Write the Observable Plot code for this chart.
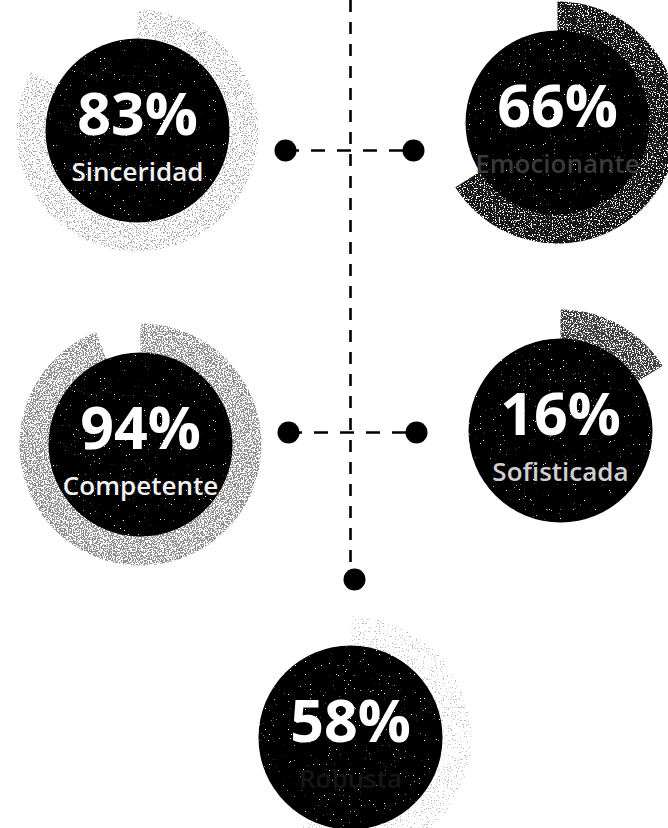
<!DOCTYPE html>
<html>
<head>
<meta charset="utf-8">
<script src="https://cdn.jsdelivr.net/npm/d3@7"></script>
<script src="https://cdn.jsdelivr.net/npm/@observablehq/plot@0.6"></script>
<style>
  html, body { margin: 0; padding: 0; background: #fff; }
  #chart svg { display: block; }
</style>
</head>
<body>
<div id="chart"></div>
<script>
// ---- data ----
const labels = ["Sinceridad", "Emocionante", "Competente", "Sofisticada", "Robusta"];
const values = [83, 66, 94, 16, 58];            // percent
const valueLabels = ["83%", "66%", "94%", "16%", "58%"];

// ---- layout (pixel space) ----
const centersX = [137, 557, 140, 560, 350];
const centersY = [130, 122, 444, 430, 737];
const discR = 92;
const ringR = 121;
const ringColors = ["#a8a8a8", "#141414", "#8c8c8c", "#3c3c3c", "#bdbdbd"];
const ringDensity = [0.57, 0.36, 0.47, 0.41, 0.64];   // grain threshold (higher = sparser)
const labelColors = ["#f2f2f2", "#3a3a3a", "#f2f2f2", "#cfcfcf", "#161616"];

const badges = labels.map((label, i) => ({
  label, value: values[i], text: valueLabels[i],
  cx: centersX[i], cy: centersY[i],
  ring: ringColors[i], labelColor: labelColors[i]
}));

// ring polygon (outer arc clockwise from 12 o'clock, back along inner arc)
function ringPoints(b) {
  const sweep = b.value / 100 * 2 * Math.PI;
  const n = Math.max(8, Math.round(b.value * 3.6));
  const pts = [];
  for (let k = 0; k <= n; k++) {
    const a = sweep * k / n;
    pts.push({x: b.cx + ringR * Math.sin(a), y: b.cy - ringR * Math.cos(a)});
  }
  for (let k = n; k >= 0; k--) {
    const a = sweep * k / n;
    pts.push({x: b.cx + (discR - 1) * Math.sin(a), y: b.cy - (discR - 1) * Math.cos(a)});
  }
  return pts;
}

// connectors
const rowY = [150, 432];
const leftDotX = [285, 288];
const rightDotX = [413, 416];
const spineX = 350;
const bottomDot = {x: 354, y: 579};
const dotsData = [
  {x: leftDotX[0], y: rowY[0]}, {x: rightDotX[0], y: rowY[0]},
  {x: leftDotX[1], y: rowY[1]}, {x: rightDotX[1], y: rowY[1]},
  bottomDot
];
const hLines = rowY.map((y, i) => ({y, x1: leftDotX[i], x2: rightDotX[i]}));

const chart = Plot.plot({
  width: 668,
  height: 828,
  margin: 0,
  x: {domain: [0, 668], range: [0, 668], axis: null},
  y: {domain: [0, 828], range: [0, 828], axis: null},
  style: {background: "#fff"},
  marks: [
    ...badges.map(b => Plot.line(ringPoints(b), {x: "x", y: "y", fill: b.ring, stroke: "none"})),
    Plot.dot(badges, {x: "cx", y: "cy", r: discR, fill: "#050505", stroke: "none"}),
    Plot.text(badges, {x: "cx", y: d => d.cy + 4, text: "text", lineAnchor: "bottom",
      fontSize: 59, fontWeight: 700, fill: "#fff", fontFamily: "Open Sans"}),
    Plot.text(badges, {x: "cx", y: d => d.cy + 50, text: "label", lineAnchor: "bottom",
      fontSize: 26, fontWeight: 600, fill: d => d.labelColor, fontFamily: "Open Sans"}),
    Plot.ruleX([spineX], {y1: 0, y2: 566, stroke: "#000", strokeWidth: 2.6, strokeDasharray: "12,10"}),
    Plot.ruleY(hLines, {y: "y", x1: "x1", x2: "x2", stroke: "#000", strokeWidth: 2.6, strokeDasharray: "14,12"}),
    Plot.dot(dotsData, {x: "x", y: "y", r: 11, fill: "#000", stroke: "none"})
  ]
});

// scanned-print grain: SVG filters applied to the rendered marks
const svg = d3.select(chart);
const defs = svg.insert("defs", ":first-child");
function grain(id, threshold, seed, freq) {
  const f = defs.append("filter").attr("id", id)
    .attr("x", "-5%").attr("y", "-5%").attr("width", "110%").attr("height", "110%");
  f.append("feTurbulence").attr("type", "fractalNoise").attr("baseFrequency", freq)
    .attr("numOctaves", 2).attr("seed", seed).attr("result", "n");
  f.append("feColorMatrix").attr("in", "n").attr("type", "matrix")
    .attr("values", "0 0 0 0 0  0 0 0 0 0  0 0 0 0 0  1 0 0 0 0").attr("result", "a");
  const ct = f.append("feComponentTransfer").attr("in", "a").attr("result", "m");
  ct.append("feFuncA").attr("type", "linear").attr("slope", 18).attr("intercept", -18 * threshold);
  f.append("feComposite").attr("in", "SourceGraphic").attr("in2", "m").attr("operator", "in");
}
ringDensity.forEach((t, i) => grain("g" + i, t, 7 + i, 0.75));
grain("gdisc", 0.2, 21, 0.8);
const lineGroups = svg.selectAll('g[aria-label="line"]').nodes();
lineGroups.forEach((g, i) => g.setAttribute("filter", `url(#g${i})`));
const dotGroups = svg.selectAll('g[aria-label="dot"]').nodes();
if (dotGroups[0]) dotGroups[0].setAttribute("filter", "url(#gdisc)");

document.getElementById("chart").appendChild(chart);
</script>
</body>
</html>
